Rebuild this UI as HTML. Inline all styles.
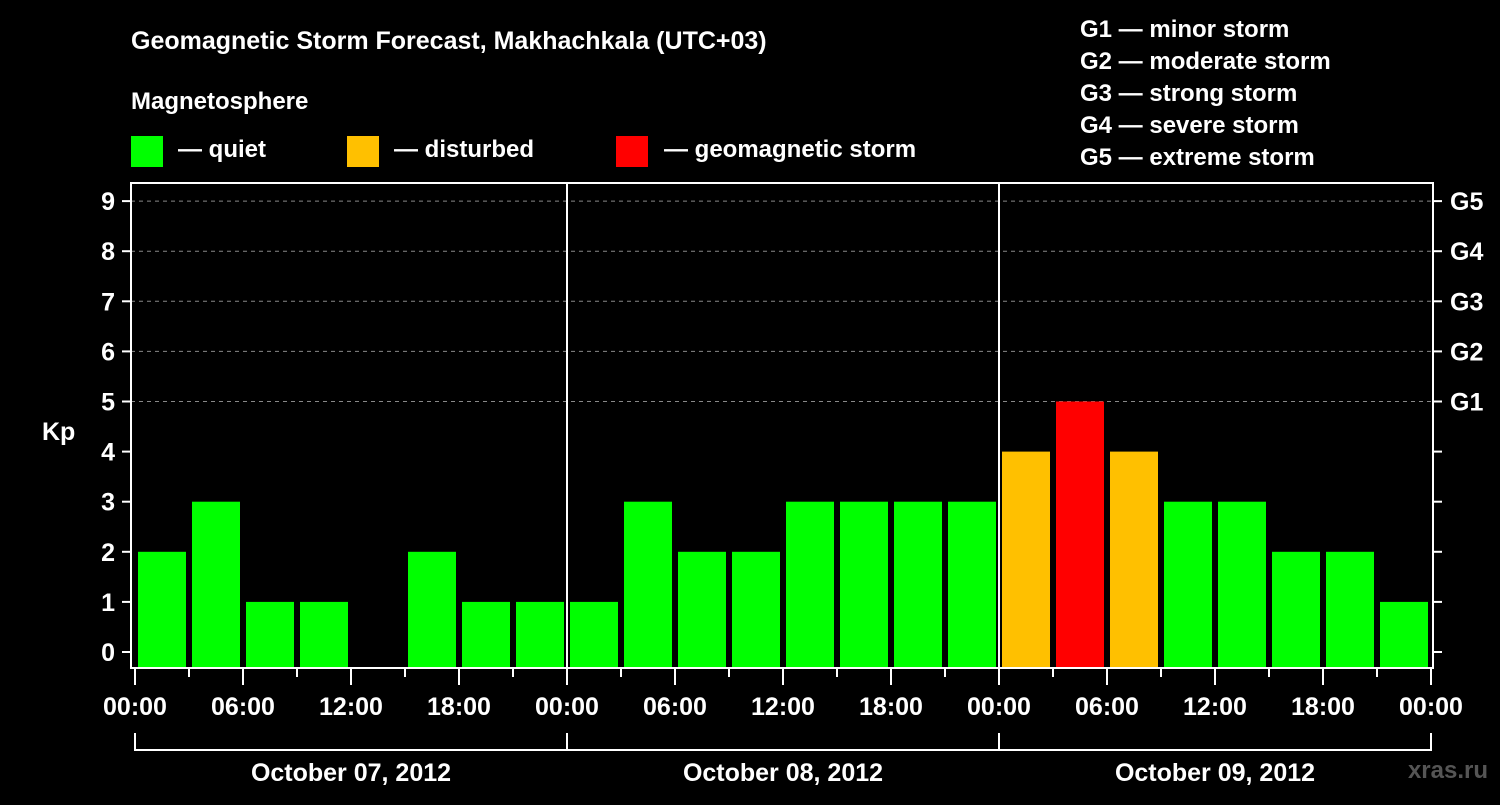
<!DOCTYPE html>
<html><head><meta charset="utf-8"><style>
body{margin:0;background:#000;width:1500px;height:800px;overflow:hidden}
text{font-family:"Liberation Sans",Arial,sans-serif;font-weight:bold;fill:#fff}
</style></head><body>
<svg id="c" width="1500" height="800">
<text x="131" y="49" font-size="25">Geomagnetic Storm Forecast, Makhachkala (UTC+03)</text>
<text x="131" y="109" font-size="24">Magnetosphere</text>
<g><rect x="131" y="136" width="32" height="31" fill="#00ff00"/><text x="178" y="157" font-size="24">— quiet</text></g>
<g><rect x="347" y="136" width="32" height="31" fill="#ffc000"/><text x="394" y="157" font-size="24">— disturbed</text></g>
<g><rect x="616" y="136" width="32" height="31" fill="#ff0000"/><text x="664" y="157" font-size="24">— geomagnetic storm</text></g>
<g font-size="24">
<text x="1080" y="37">G1 — minor storm</text><text x="1080" y="69">G2 — moderate storm</text><text x="1080" y="101">G3 — strong storm</text><text x="1080" y="133">G4 — severe storm</text><text x="1080" y="165">G5 — extreme storm</text></g>
<text x="42" y="440" font-size="25">Kp</text>
<text x="1488" y="778" font-size="24" text-anchor="end" fill="#555" style="fill:#555">xras.ru</text>
<g id="grid"></g><g id="bars"></g><g id="axes"></g>
</svg>
<script>
const days=["October 07, 2012","October 08, 2012","October 09, 2012"];
const kpValues=[2,3,1,1,0,2,1,1, 1,3,2,2,3,3,3,3, 4,5,4,3,3,2,2,1];
const timeLabels=["00:00","06:00","12:00","18:00"];
const gLabels=["G1","G2","G3","G4","G5"];
const NS="http://www.w3.org/2000/svg";
const L=131,R=1433,T=183,B=668,X0=135,SLOT=54;
const y=v=>652-v*50.1;
const x=i=>X0+i*SLOT;
function mk(p,tag,a){const e=document.createElementNS(NS,tag);for(const k in a)e.setAttribute(k,a[k]);document.getElementById(p).appendChild(e);return e;}
for(let v=5;v<=9;v++){
 const g=mk("grid","line",{x1:L,x2:R,y1:y(v),y2:y(v),stroke:"#888","stroke-dasharray":"4,4","stroke-width":1});
 
 
}
kpValues.forEach((v,i)=>{
 if(v<=0)return;
 const c=v>=5?"#ff0000":v>=4?"#ffc000":"#00ff00";
 const r=mk("bars","rect",{x:x(i)+3,y:y(v),width:48,height:B-1-y(v),fill:c});
 
 
});
const fr=mk("axes","rect",{x:L,y:T,width:R-L,height:B-T,fill:"none",stroke:"#fff","stroke-width":2});


for(let d=1;d<days.length;d++){
 const s=mk("axes","line",{x1:x(d*8),x2:x(d*8),y1:T,y2:B,stroke:"#fff","stroke-width":2});
 
 
}
for(let v=0;v<=9;v++){
 mk("axes","line",{x1:122,x2:L,y1:y(v),y2:y(v),stroke:"#fff","stroke-width":2});
 mk("axes","line",{x1:R,x2:1442,y1:y(v),y2:y(v),stroke:"#fff","stroke-width":2});
 const t=mk("axes","text",{x:115,y:y(v)+9,"text-anchor":"end","font-size":25});
 t.textContent=v;
 
 
}
gLabels.forEach((g,k)=>{
 const t=mk("axes","text",{x:1450,y:y(k+5)+9,"font-size":25});
 t.textContent=g;
 
 
});
for(let i=0;i<=kpValues.length;i++){
 const major=i%2===0;
 mk("axes","line",{x1:x(i),x2:x(i),y1:B,y2:major?685:677,stroke:"#fff","stroke-width":2});
 if(major){
  const t=mk("axes","text",{x:x(i),y:715,"text-anchor":"middle","font-size":25});
  t.textContent=timeLabels[(i/2)%4];
  
  
 }
}
days.forEach((d,k)=>{
 const a=x(k*8),b=x(k*8+8);
 mk("axes","path",{d:`M${a},733V750H${b}`+(k==days.length-1?"V733":""),fill:"none",stroke:"#fff","stroke-width":2});
 const t=mk("axes","text",{x:(a+b)/2,y:781,"text-anchor":"middle","font-size":25});
 t.textContent=d;
 
 
});
</script>
</body></html>
